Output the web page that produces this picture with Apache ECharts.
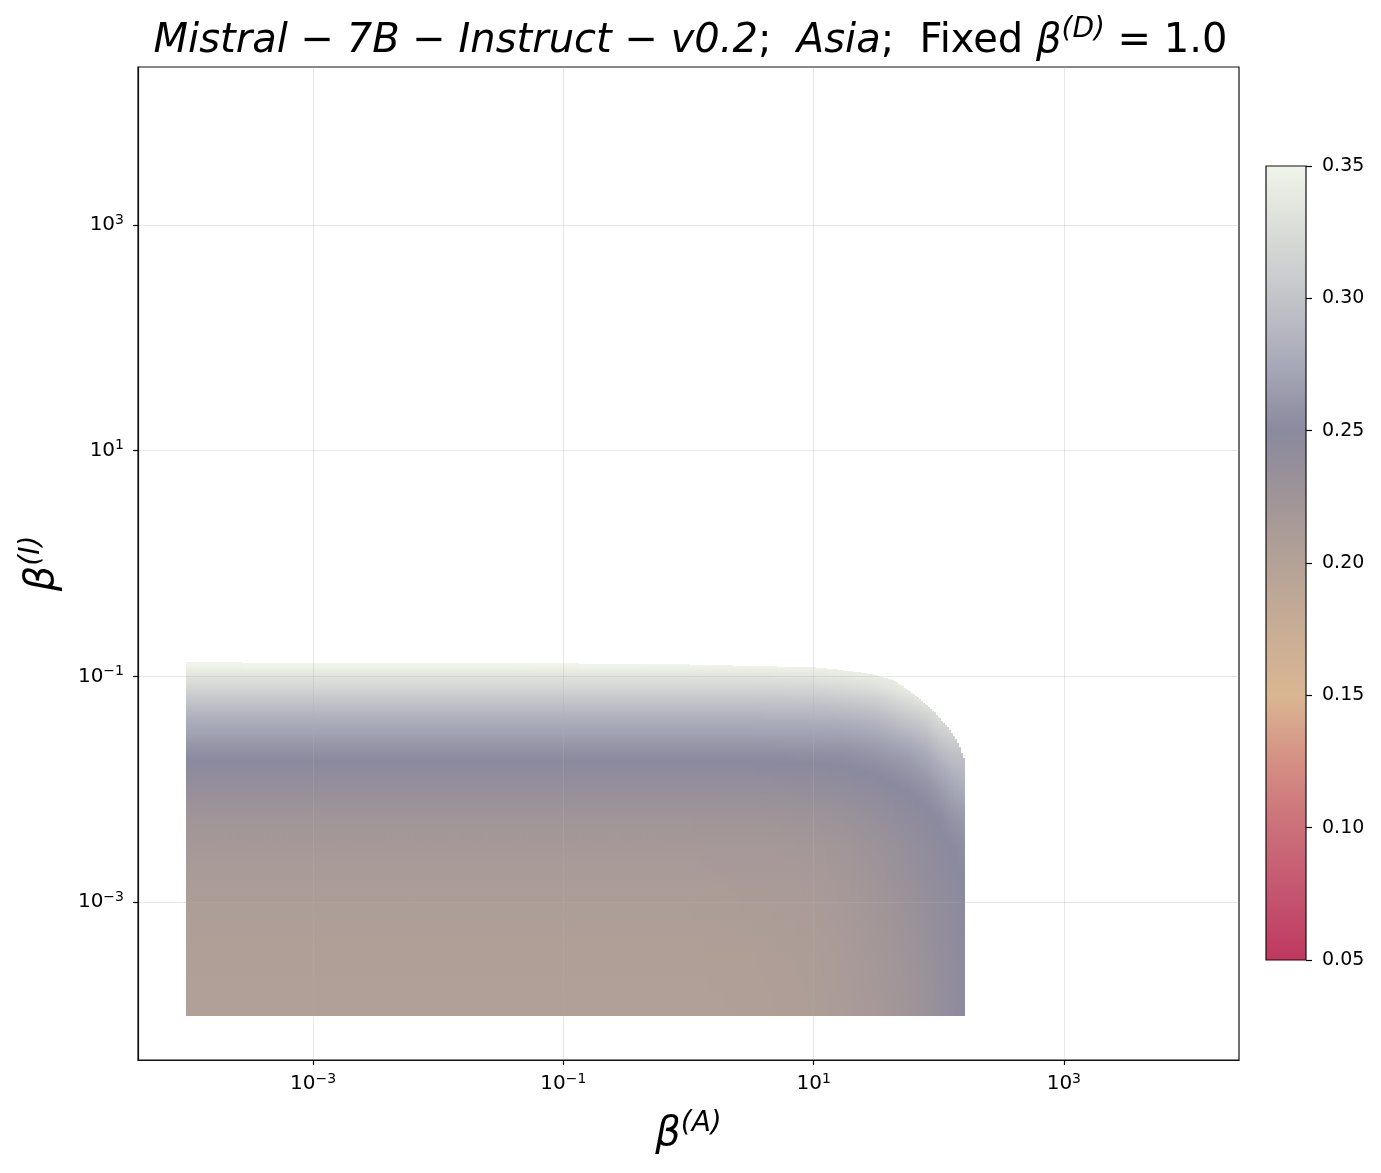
<!DOCTYPE html>
<html><head><meta charset="utf-8">
<script src="https://cdn.jsdelivr.net/npm/echarts@6/dist/echarts.min.js"></script>
<style>html,body{margin:0;padding:0;background:#fff}#c{width:1381px;height:1173px}</style>
</head><body><div id="c"></div>
<script>
// ---- data (log10 exponents of beta^(A) / beta^(I)) ----
const xNodes = [-4.02, -3, -2, -1, 0, 0.5, 1.0, 1.25, 1.5, 1.75, 1.9, 2.0, 2.1, 2.21];
const yNodes = [-4.01, -3.5, -3.0, -2.5, -2.25, -2.0, -1.8, -1.7, -1.6, -1.5, -1.4, -1.3, -1.2, -1.1, -1.0, -0.87];
// one row per yNode (bottom -> top), one value per xNode
const zRow0  = [0.203,0.203,0.203,0.203,0.203,0.205,0.208,0.212,0.217,0.224,0.230,0.235,0.241,0.246];
const zRow1  = [0.205,0.205,0.205,0.205,0.205,0.206,0.209,0.213,0.219,0.226,0.232,0.237,0.242,0.247];
const zRow2  = [0.209,0.209,0.209,0.209,0.209,0.210,0.212,0.216,0.222,0.230,0.236,0.240,0.244,0.249];
const zRow3  = [0.217,0.217,0.217,0.217,0.217,0.218,0.219,0.223,0.229,0.237,0.242,0.246,0.250,0.255];
const zRow4  = [0.224,0.224,0.224,0.224,0.224,0.225,0.227,0.230,0.236,0.243,0.247,0.252,0.258,0.264];
const zRow5  = [0.236,0.236,0.236,0.236,0.236,0.236,0.238,0.241,0.245,0.251,0.256,0.263,0.271,0.279];
const zRow6  = [0.247,0.247,0.247,0.247,0.247,0.247,0.248,0.250,0.253,0.260,0.268,0.277,0.286,0.292];
const zRow7  = [0.253,0.253,0.253,0.253,0.253,0.253,0.254,0.255,0.259,0.267,0.276,0.286,0.295,0.298];
const zRow8  = [0.261,0.261,0.261,0.261,0.261,0.261,0.262,0.262,0.266,0.276,0.285,0.296,0.305,0.305];
const zRow9  = [0.270,0.270,0.270,0.270,0.270,0.270,0.270,0.271,0.275,0.287,0.296,0.308,0.316,0.312];
const zRow10 = [0.279,0.279,0.279,0.279,0.279,0.279,0.280,0.281,0.286,0.299,0.309,0.321,0.322,0.320];
const zRow11 = [0.290,0.290,0.290,0.290,0.290,0.290,0.291,0.293,0.298,0.313,0.323,0.330,0.330,0.330];
const zRow12 = [0.303,0.303,0.303,0.303,0.303,0.303,0.304,0.307,0.312,0.328,0.336,0.340,0.340,0.340];
const zRow13 = [0.318,0.318,0.318,0.318,0.318,0.318,0.319,0.322,0.327,0.342,0.345,0.345,0.345,0.345];
const zRow14 = [0.333,0.333,0.333,0.333,0.333,0.333,0.335,0.338,0.342,0.350,0.350,0.350,0.350,0.350];
const zRow15 = [0.356,0.356,0.356,0.356,0.356,0.356,0.356,0.356,0.356,0.356,0.356,0.356,0.356,0.356];
// upper boundary of the valid region
const topEdgeX = [-4.02, -1, 0, 1.0, 1.2, 1.37, 1.5, 1.63, 1.7, 1.77, 1.84, 1.90, 1.97, 2.03, 2.08, 2.11, 2.15, 2.17, 2.19, 2.21];
const topEdgeY = [-0.876, -0.885, -0.895, -0.92, -0.94, -0.965, -0.99, -1.03, -1.075, -1.13, -1.19, -1.25, -1.32, -1.40, -1.46, -1.51, -1.58, -1.63, -1.69, -1.75];
// colour scale
const colorRange = [0.05, 0.35];
const cmapColors = ['#bf3860','#c45570','#cb7079','#d48f83','#dab692','#c8ad95','#b4a297','#9f9498','#8a899e','#a8a9b8','#c3c4c9','#dadcd8','#f1f4e9'];
const tickExps = [-3, -1, 1, 3];
const cbTicks = [0.05, 0.10, 0.15, 0.20, 0.25, 0.30, 0.35];

const zRows = [zRow0,zRow1,zRow2,zRow3,zRow4,zRow5,zRow6,zRow7,zRow8,zRow9,zRow10,zRow11,zRow12,zRow13,zRow14,zRow15];
const FONT = 'DejaVu Sans';

function interp(xa, ya, x) {
  if (x <= xa[0]) return ya[0];
  for (let k = 1; k < xa.length; k++) {
    if (x <= xa[k]) { const f = (x - xa[k-1]) / (xa[k] - xa[k-1]); return ya[k-1] + (ya[k] - ya[k-1]) * f; }
  }
  return ya[ya.length - 1];
}
function cmap(v) {
  const t = Math.min(1, Math.max(0, (v - colorRange[0]) / (colorRange[1] - colorRange[0])));
  return echarts.color.lerp(t, cmapColors);
}

const cells = [];
for (let j = 0; j < yNodes.length - 1; j++)
  for (let i = 0; i < xNodes.length - 1; i++)
    cells.push([xNodes[i], yNodes[j], xNodes[i+1], yNodes[j+1], zRows[j][i], i, j]);

function renderCell(params, api) {
  const i = api.value(5), j = api.value(6);
  const xa = xNodes[i], xb = xNodes[i+1], ya = yNodes[j], yb = yNodes[j+1];
  const pA = api.coord([xa, ya]), pB = api.coord([xb, yb]);
  const xL = Math.round(pA[0]), xR = Math.round(pB[0]);
  const yBot = Math.round(pA[1]);
  const children = [];
  for (let px = xL; px < xR; px += 2) {
    const px1 = Math.min(xR, px + 2);
    const fm = ((px + px1) / 2 - pA[0]) / (pB[0] - pA[0]);
    const xm = xa + (xb - xa) * fm;
    const vb = zRows[j][i] * (1 - fm) + zRows[j][i+1] * fm;
    const vt = zRows[j+1][i] * (1 - fm) + zRows[j+1][i+1] * fm;
    const yt = Math.min(yb, interp(topEdgeX, topEdgeY, xm));
    if (yt <= ya) continue;
    const f = (yt - ya) / (yb - ya);
    const vTop = vb + (vt - vb) * f;
    const pyTop = Math.round(api.coord([xm, yt])[1]);
    if (pyTop >= yBot) continue;
    const stops = [];
    for (let s = 0; s <= 4; s++) { const t = s / 4; stops.push({offset: t, color: cmap(vTop + (vb - vTop) * t)}); }
    children.push({
      type: 'rect',
      shape: {x: px, y: pyTop, width: px1 - px, height: yBot - pyTop},
      style: {fill: new echarts.graphic.LinearGradient(0, 0, 0, 1, stops)}
    });
  }
  return {type: 'group', children};
}

function renderBar(params, api) {
  const p0 = api.coord([0, api.value(0)]), p1 = api.coord([1, api.value(1)]);
  const stops = cmapColors.map((c, k) => ({offset: 1 - k / (cmapColors.length - 1), color: c}));
  return {type: 'rect', shape: {x: p0[0], y: p1[1], width: p1[0] - p0[0], height: p0[1] - p1[1]},
    style: {fill: new echarts.graphic.LinearGradient(0, 0, 0, 1, stops), stroke: '#111', lineWidth: 1.2}};
}

const supRich = {
  b: {fontSize: 20, fontFamily: FONT, color: '#000', lineHeight: 24},
  s: {fontSize: 14, fontFamily: FONT, color: '#000', lineHeight: 14, verticalAlign: 'top'}
};
function expLabel(v) { const e = Math.round(v); return '{b|10}{s|' + (e < 0 ? '\u2212' + (-e) : e) + '}'; }

const nameRich = {
  it: {fontSize: 40, fontStyle: 'italic', fontFamily: FONT, color: '#000', lineHeight: 50},
  sup: {fontSize: 28, fontStyle: 'italic', fontFamily: FONT, color: '#000', lineHeight: 30, verticalAlign: 'top'}
};

const axisCommon = {
  type: 'value', min: -4.4, max: 4.4, z: 5,
  axisLine: {show: true, onZero: false, lineStyle: {color: '#111', width: 1.2}},
  axisTick: {show: true, customValues: tickExps, length: 5, lineStyle: {color: '#000', width: 1.2}},
  axisLabel: {customValues: tickExps, formatter: expLabel, rich: supRich, color: '#000'},
  splitLine: {show: true, lineStyle: {color: 'rgba(176,176,176,0.3)', width: 1}}
};

const option = {
  animation: false,
  backgroundColor: '#fff',
  title: {
    text: '{it|Mistral}{rm| \u2212 }{it|7B}{rm| \u2212 }{it|Instruct}{rm| \u2212 }{it|v0.2}{rm|;  }{it|Asia}{rm|;  Fixed }{it|\u03b2}{sup|(D)}{rm| = 1.0}',
    left: 'center', top: 11,
    textStyle: {
      fontWeight: 'normal',
      rich: {
        it: {fontSize: 40, fontStyle: 'italic', fontWeight: 'normal', fontFamily: FONT, color: '#000', lineHeight: 52},
        rm: {fontSize: 40, fontWeight: 'normal', fontFamily: FONT, color: '#000', lineHeight: 52},
        sup: {fontSize: 28, fontStyle: 'italic', fontWeight: 'normal', fontFamily: FONT, color: '#000', lineHeight: 30, verticalAlign: 'top'}
      }
    }
  },
  grid: [
    {left: 138, top: 67, width: 1101, height: 993, show: true, borderColor: '#111', borderWidth: 1.2, backgroundColor: 'transparent'},
    {left: 1266, top: 166, width: 40, height: 794, show: false}
  ],
  xAxis: [
    Object.assign({}, axisCommon, {gridIndex: 0, position: 'bottom',
      axisLabel: Object.assign({}, axisCommon.axisLabel, {margin: 12}),
      name: '{it|\u03b2}{sup|(A)}', nameLocation: 'middle', nameGap: 50, nameTextStyle: {rich: nameRich}}),
    {type: 'value', gridIndex: 1, min: 0, max: 1, show: false}
  ],
  yAxis: [
    Object.assign({}, axisCommon, {gridIndex: 0, position: 'left',
      axisLabel: Object.assign({}, axisCommon.axisLabel, {margin: 14}),
      name: '{it|\u03b2}{sup|(I)}', nameLocation: 'middle', nameGap: 70, nameTextStyle: {rich: nameRich}}),
    {type: 'value', gridIndex: 1, min: colorRange[0], max: colorRange[1], position: 'right',
      axisLine: {show: false, onZero: false},
      axisTick: {show: true, customValues: cbTicks, length: 6, lineStyle: {color: '#000', width: 1.2}},
      axisLabel: {customValues: cbTicks, formatter: v => v.toFixed(2), fontSize: 19, fontFamily: FONT, color: '#000', margin: 16},
      splitLine: {show: false}}
  ],
  series: [
    {type: 'custom', xAxisIndex: 0, yAxisIndex: 0, data: cells, encode: {x: [0, 2], y: [1, 3]},
      renderItem: renderCell, silent: true, z: 2},
    {type: 'custom', xAxisIndex: 1, yAxisIndex: 1, data: [[colorRange[0], colorRange[1]]], encode: {y: [0, 1]},
      renderItem: renderBar, silent: true, z: 2}
  ]
};
echarts.init(document.getElementById('c'), null, {renderer: 'canvas'}).setOption(option);
</script></body></html>
